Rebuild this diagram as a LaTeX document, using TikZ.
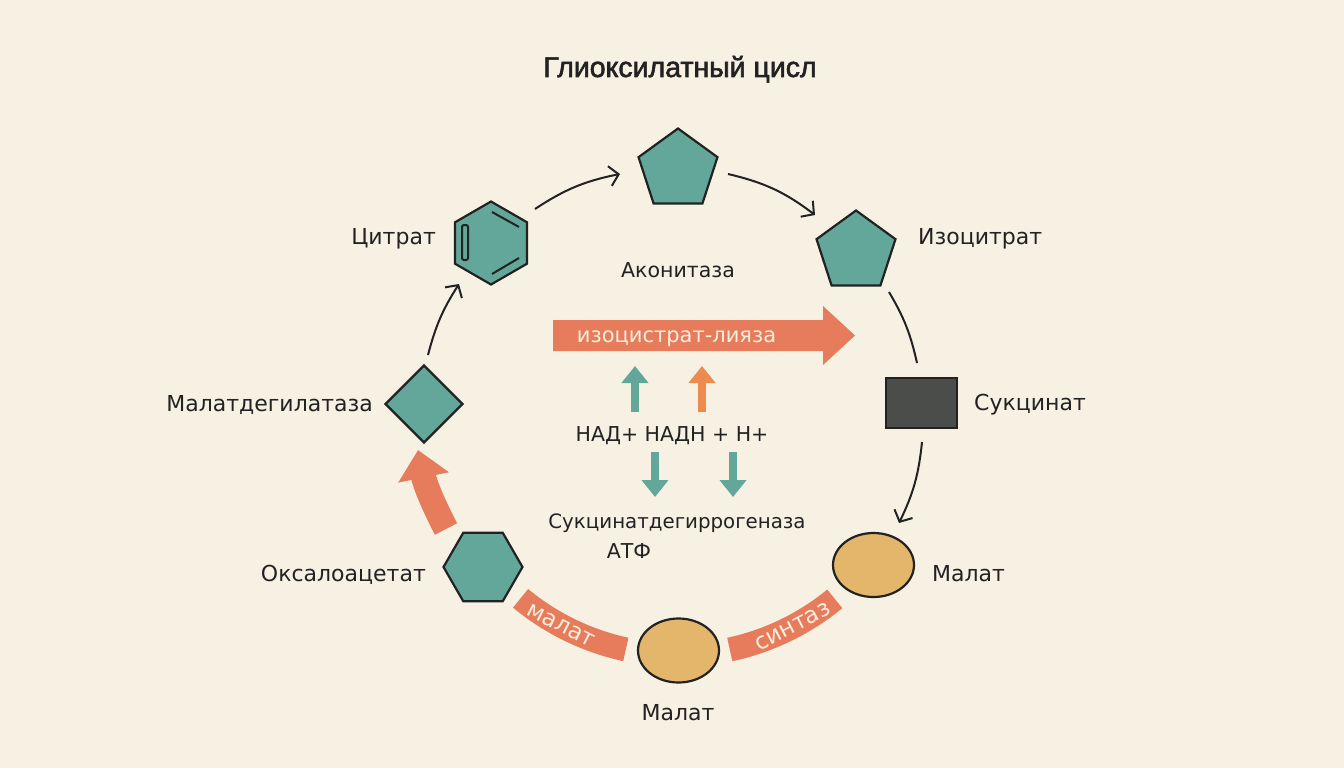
\documentclass[tikz,border=0pt]{standalone}
\usepackage{fontspec}
\setmainfont{DejaVu Sans}
\newfontfamily\titlefont{Liberation Sans}[FakeBold=2]
\usetikzlibrary{positioning,arrows.meta,shapes.geometric}
\definecolor{glxcream}{HTML}{F7F1E4}
\definecolor{glxteal}{HTML}{63A79A}
\definecolor{glxorange}{HTML}{E67C5B}
\definecolor{glxamber}{HTML}{EC8A50}
\definecolor{glxochre}{HTML}{E3B66C}
\definecolor{glxdark}{HTML}{4A4D4A}
\definecolor{glxink}{HTML}{222222}
\definecolor{glxpale}{HTML}{F8EEDD}

\begin{document}
\begin{tikzpicture}[x=1pt, y=-1pt,
  font=\fontsize{22}{26}\selectfont,
  mol/.style={draw=glxink, line width=2.2pt, fill=glxteal, inner sep=0pt},
  penta/.style={mol, regular polygon, regular polygon sides=5, minimum size=83pt},
  hexa/.style={mol, regular polygon, regular polygon sides=6, minimum size=#1},
  hexa/.default=80pt,
  oval/.style={mol, ellipse, fill=glxochre, minimum width=81pt, minimum height=64pt},
  succbox/.style={mol, rectangle, fill=glxdark, minimum width=71pt, minimum height=50pt},
  lbl/.style={inner sep=0pt, text=glxink},
  midlbl/.style={lbl, font=\fontsize{20.5}{24}\selectfont},
  bartxt/.style={inner sep=0pt, text=glxpale},
  arr/.style={draw=glxink, line width=2pt, -{Straight Barb[length=9pt,width=20pt]}},
  link/.style={draw=glxink, line width=2pt},
  blk/.style={draw=#1, line width=8pt, -{Triangle[length=17pt,width=26pt]}},
  band/.style={draw=glxorange, line width=24pt}]
\useasboundingbox[fill=glxcream] (0,0) rectangle (1344,768);
\coordinate (ring) at (678,408);

% title
\node[lbl, anchor=base, font=\titlefont\fontsize{28.5}{32}\selectfont] (title) at (680,77) {Глиоксилатный цисл};

% enzyme bands along the ring
\draw[band] ([shift={(129.6:247)}]ring) arc[start angle=129.6, end angle=102.2, radius=247];
\draw[band] ([shift={(77.9:247)}]ring) arc[start angle=77.9, end angle=50.6, radius=247];
\node[bartxt, rotate=-27, font=\fontsize{23}{26}\selectfont] (bandA) at ([shift={(118.3:247)}]ring) {малат};
\node[bartxt, rotate=27.5, font=\fontsize{23}{26}\selectfont] (bandB) at ([shift={(62.3:247)}]ring) {синтаз};

% metabolites
\node[penta] (aco) at (678,170) {};
\node[penta] (iso) at (856,252) {};
\node[hexa=83pt, shape border rotate=30] (cit) at (491,243) {};
\node[mol, diamond, aspect=1, minimum width=78pt, minimum height=78pt] (mdh) at (424,404) {};
\node[hexa=79pt] (oxa) at (483,567) {};
\node[succbox] (suc) at (921.5,403) {};
\node[oval] (malR) at (873.5,565) {};
\node[oval] (malB) at (678.5,650.5) {};

% double bonds of citrate
\draw[glxink, line width=2pt, rounded corners=2pt] ([shift={(-29,-18)}]cit.center) rectangle ([shift={(-23,17)}]cit.center);
\draw[glxink, line width=2pt] ([shift={(1,-31)}]cit.center) -- ([shift={(28,-16)}]cit.center);
\draw[glxink, line width=2pt] ([shift={(1,31)}]cit.center) -- ([shift={(28,15)}]cit.center);

% labels
\node[lbl, anchor=base east] (citlbl) at (436,244.5) {Цитрат};
\node[lbl, anchor=base west] (isolbl) at (918,244.5) {Изоцитрат};
\node[midlbl, anchor=base] (acolbl) at (678,277) {Аконитаза};
\node[lbl, anchor=base west] (suclbl) at (974,410.5) {Сукцинат};
\node[lbl, anchor=base east] (mdhlbl) at (373,411.5) {Малатдегилатаза};
\node[lbl, anchor=base west] (malRlbl) at (932,581.5) {Малат};
\node[lbl, anchor=base east] (oxalbl) at (426,581.5) {Оксалоацетат};
\node[lbl, anchor=base] (malBlbl) at (678,720.5) {Малат};
\node[midlbl, anchor=base] (nad) at (672,441) {НАД+ НАДН + Н+};
\node[midlbl, font=\fontsize{19.8}{24}\selectfont, anchor=base] (sdh) at (677,528) {Сукцинатдегиррогеназа};
\node[midlbl, anchor=base] (atp) at (629,558) {АТФ};

% cycle arrows
\draw[arr] ([shift={(44,-34)}]cit.center) to[bend left=11] ([shift={(-58,4)}]aco.center);
\draw[arr] ([shift={(50,4)}]aco.center) to[bend left=12] ([shift={(-41,-37)}]iso.center);
\draw[link] ([shift={(33,40)}]iso.center) to[bend left=9] ([shift={(-4.5,-40)}]suc.center);
\draw[arr] ([shift={(0.5,39)}]suc.center) to[bend left=10] ([shift={(25.5,-42)}]malR.center);
\draw[arr] ([shift={(4,-49)}]mdh.center) to[bend left=9] ([shift={(-32,41)}]cit.center);
\draw[glxorange, line width=25pt, -{Triangle[length=28pt,width=50pt]}]
  ([shift={(-37,-38)}]oxa.center) to[bend left=8] ([shift={(-6,46)}]mdh.center);

% isocitrate lyase bar
\fill[glxorange] (553,320) -- (823,320) -- (823,306) -- (855,335.5) -- (823,365) -- (823,351) -- (553,351) -- cycle;
\node[bartxt, anchor=base, font=\fontsize{21}{24}\selectfont] (lyase) at (676.5,342.5) {изоцистрат-лияза};

% cofactor arrows
\coordinate (upA) at (635,412);
\coordinate (upB) at (702,412);
\coordinate (dnA) at (655,452);
\coordinate (dnB) at (733,452);
\draw[blk=glxteal] (upA) -- ++(0,-46);
\draw[blk=glxamber] (upB) -- ++(0,-46);
\draw[blk=glxteal] (dnA) -- ++(0,45);
\draw[blk=glxteal] (dnB) -- ++(0,45);
\end{tikzpicture}
\end{document}
